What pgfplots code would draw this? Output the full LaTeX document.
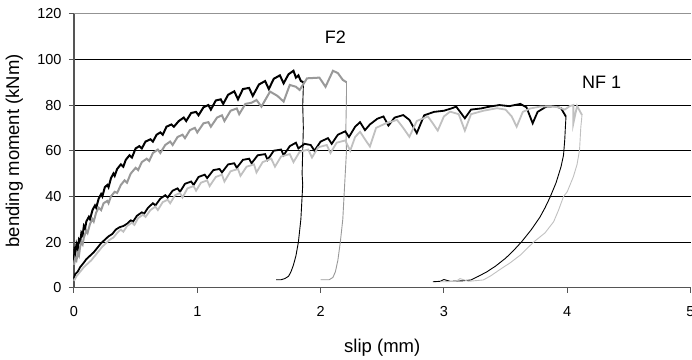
\documentclass[border=0pt]{standalone}
\usepackage{pgfplots}
\pgfplotsset{compat=1.18}
\usepackage{fontspec}
\setmainfont{Liberation Sans}
\definecolor{fgray}{HTML}{999999}
\definecolor{ngray}{HTML}{C0C0C0}
\definecolor{axgray}{HTML}{555555}
\begin{document}
\begin{tikzpicture}
\begin{axis}[
  at={(0pt,0pt)}, anchor=south west,
  scale only axis, width=616.5pt, height=274pt,
  xmin=0, xmax=5, ymin=0, ymax=120,
  xtick={0,1,2,3,4,5},
  ytick={0,20,40,60,80,100},
  extra y ticks={120},
  extra y tick style={grid style={color=gray!85, line width=1.1pt}},
  ymajorgrids,
  grid style={black, line width=0.7pt},
  axis x line*=bottom, axis y line*=left,
  axis line style={axgray, line width=1.1pt},
  tick style={axgray, line width=1pt},
  tick align=outside,
  major tick length=5pt,
  /pgf/number format/assume math mode=true,
  tick label style={font=\fontsize{14.5}{16}\selectfont},
  xticklabel style={yshift=-10pt},
  yticklabel style={xshift=-4pt},
  label style={font=\fontsize{18.5}{20}\selectfont},
  xlabel={slip (mm)},
  ylabel={bending moment (kNm)},
  xlabel style={at={(axis description cs:0.5,-0.2383)}, anchor=base},
  ylabel style={at={(axis description cs:-0.0892,0.5)}, anchor=base},
  clip=false,
]
% F2 black rising
\addplot[black, line width=2pt] coordinates {
(0,12) (0.005,18) (0.01,15) (0.02,19) (0.03,17) (0.04,21) (0.05,20) (0.06,24) (0.07,23) (0.08,27) (0.09,26) (0.10,29) (0.12,31) (0.13,30) (0.15,34) (0.17,36) (0.18,35) (0.20,39) (0.22,41) (0.23,40) (0.25,44) (0.27,45) (0.28,44) (0.30,48) (0.32,50) (0.33,49) (0.35,52) (0.38,54) (0.40,53) (0.42,56) (0.45,58) (0.47,57) (0.50,61) (0.53,62) (0.55,61) (0.58,64) (0.62,65) (0.64,64) (0.67,67) (0.70,68) (0.72,67) (0.75,70.5) (0.79,71.5) (0.81,70.5) (0.85,73) (0.89,74.5) (0.91,73) (0.95,76.5) (0.99,77) (1.01,75.5) (1.05,79) (1.09,80) (1.11,78) (1.15,82) (1.19,82.5) (1.21,80.5) (1.25,84.5) (1.30,86) (1.33,82.5) (1.37,87) (1.42,87.5) (1.45,84) (1.50,89) (1.55,90.5) (1.58,87) (1.62,91.5) (1.67,93) (1.70,89.5) (1.74,93.5) (1.78,95) (1.80,92) (1.82,93) (1.84,90.5) (1.86,90)
};
% F2 black falling
\addplot[black, line width=0.9pt] coordinates {
(1.86,90) (1.86,88) (1.855,80) (1.86,70) (1.855,60) (1.85,50) (1.855,45) (1.85,40) (1.84,30) (1.83,25) (1.82,20) (1.80,14) (1.78,10) (1.76,7) (1.74,5) (1.71,4) (1.68,3.5) (1.64,3.5)
};
% F2 gray rising
\addplot[fgray, line width=2pt] coordinates {
(0,10) (0.01,13) (0.02,12) (0.03,15) (0.04,14) (0.05,18) (0.06,20) (0.07,19) (0.08,22) (0.10,25) (0.11,24) (0.13,28) (0.15,30) (0.16,29) (0.18,33) (0.20,35) (0.22,34) (0.24,37) (0.27,38) (0.28,37) (0.30,40) (0.33,42) (0.35,41.5) (0.38,45) (0.41,47) (0.43,46) (0.46,50) (0.50,52.5) (0.52,51.5) (0.55,55) (0.59,56.5) (0.61,55.5) (0.64,59) (0.68,60.5) (0.70,59) (0.74,62.5) (0.78,64) (0.80,62.5) (0.84,66) (0.88,67) (0.90,65.5) (0.94,69) (0.98,70) (1.00,68) (1.05,72) (1.09,72.5) (1.11,70.5) (1.16,74.5) (1.20,75.5) (1.22,73) (1.27,77.5) (1.32,78.5) (1.34,76) (1.39,80.5) (1.44,81) (1.48,82.2) (1.52,79.3) (1.59,85.9) (1.65,84) (1.70,81.5) (1.75,88.8) (1.80,88) (1.83,86.6) (1.89,91.7) (1.99,92) (2.04,88) (2.10,95) (2.14,94) (2.18,91) (2.21,90)
};
% F2 gray falling
\addplot[fgray, line width=0.9pt] coordinates {
(2.21,90) (2.21,85) (2.205,70) (2.21,60) (2.20,50) (2.19,40) (2.18,30) (2.16,20) (2.14,12) (2.12,7) (2.10,4.5) (2.07,3.5) (2.03,3.5) (2.00,3.5)
};
% NF1 black rising
\addplot[black, line width=1.8pt] coordinates {
(0,4) (0.01,6) (0.03,7) (0.05,9) (0.08,11) (0.10,12.5) (0.13,14) (0.16,15.5) (0.19,17.5) (0.22,19.5) (0.25,21) (0.28,22.5) (0.31,23.5) (0.34,25.5) (0.37,26.5) (0.40,27) (0.43,28) (0.46,29.5) (0.48,29) (0.51,31.5) (0.55,33) (0.57,32.5) (0.60,35) (0.64,37) (0.66,36) (0.70,39) (0.74,40.5) (0.76,39.5) (0.80,42.5) (0.84,43.5) (0.86,42) (0.90,45.5) (0.95,46.5) (0.97,45) (1.01,48.5) (1.06,49.5) (1.08,48) (1.13,51.5) (1.18,52) (1.20,50.5) (1.25,54) (1.30,54.5) (1.32,52.5) (1.37,56) (1.42,56.5) (1.44,54.5) (1.49,58) (1.55,58.5) (1.57,56) (1.62,60) (1.68,60.5) (1.70,58) (1.75,62) (1.80,63.5) (1.82,61) (1.87,63) (1.92,62.5) (1.95,60) (2.00,64) (2.06,65.5) (2.09,63) (2.14,67) (2.20,68.5) (2.23,66) (2.28,70.5) (2.32,72.5) (2.36,69) (2.40,71.5) (2.46,74) (2.51,75) (2.55,71) (2.60,74.5) (2.67,75.6) (2.72,73.5) (2.78,67.7) (2.84,75.5) (2.92,77) (3.00,77.5) (3.06,78.5) (3.10,79.3) (3.17,74.2) (3.22,78) (3.30,78.5) (3.37,79.3) (3.45,80) (3.53,79.5) (3.62,80.5) (3.67,79) (3.72,72) (3.76,77) (3.83,79.3) (3.90,79.5) (3.95,78.6) (3.99,74.9)
};
% NF1 black falling
\addplot[black, line width=0.9pt] coordinates {
(3.99,74.9) (3.985,70) (3.98,64.7) (3.97,58) (3.95,53) (3.91,46) (3.86,39.5) (3.82,35) (3.78,31) (3.71,25.5) (3.63,20.1) (3.56,16) (3.50,12.9) (3.42,9.5) (3.35,7.0) (3.28,5) (3.22,3.4) (3.15,3.0) (3.05,2.8) (3.00,3.6) (2.97,2.8) (2.91,2.6)
};
% NF1 light gray rising
\addplot[ngray, line width=1.8pt] coordinates {
(0,3) (0.02,5) (0.05,7) (0.08,9) (0.11,10.5) (0.14,12) (0.17,14) (0.20,16) (0.23,18) (0.26,19.5) (0.29,21) (0.32,22) (0.35,24) (0.38,25.5) (0.40,24.5) (0.43,27) (0.47,28.5) (0.49,27.5) (0.52,30.5) (0.56,32) (0.58,31) (0.62,34) (0.66,35.5) (0.68,34) (0.72,37.5) (0.76,38.5) (0.78,37) (0.82,40.5) (0.86,41.5) (0.88,39.5) (0.92,43.5) (0.97,44.5) (0.99,42.5) (1.03,46) (1.08,47) (1.10,44.5) (1.15,48.5) (1.20,49.5) (1.22,46.5) (1.27,51) (1.33,52) (1.35,49) (1.40,53) (1.46,54) (1.48,50.5) (1.53,55) (1.60,56.5) (1.63,53) (1.68,57.5) (1.75,58.5) (1.78,55) (1.83,59.5) (1.90,60.5) (1.93,57) (1.98,61.5) (2.05,62.5) (2.08,59) (2.13,63.5) (2.20,64.5) (2.24,60) (2.28,66) (2.32,68.3) (2.36,65) (2.40,61.8) (2.45,70) (2.53,72) (2.62,73.5) (2.67,70) (2.72,66.1) (2.78,73) (2.87,75) (2.91,72) (2.95,68.8) (3.00,75) (3.05,77.1) (3.12,76) (3.17,68.8) (3.22,76) (3.32,77.5) (3.43,78.6) (3.50,78) (3.55,75) (3.59,70.5) (3.64,77) (3.70,78.5) (3.78,79.3) (3.86,79.5) (3.93,79) (3.98,78) (4.02,79.5) (4.05,80) (4.05,72) (4.08,79.6) (4.12,75.6)
};
% NF1 light gray falling
\addplot[ngray, line width=0.9pt] coordinates {
(4.12,75.6) (4.11,70) (4.10,60.3) (4.08,54) (4.05,48.6) (4.00,42) (3.97,39.9) (3.93,34) (3.89,28.9) (3.82,24) (3.73,20.1) (3.62,14.3) (3.54,11) (3.45,7.8) (3.38,5.2) (3.32,3.4) (3.20,2.8) (3.13,4) (3.10,2.8) (3.00,2.6) (2.97,2.6)
};
\node[font=\fontsize{18}{20}\selectfont] at (axis cs:2.12,109.7) {F2};
\node[font=\fontsize{18}{20}\selectfont] at (axis cs:4.28,90) {NF 1};
\end{axis}
\pgfresetboundingbox
\useasboundingbox (-74pt,-71.3pt) rectangle (618pt,287.7pt);
\end{tikzpicture}
\end{document}
